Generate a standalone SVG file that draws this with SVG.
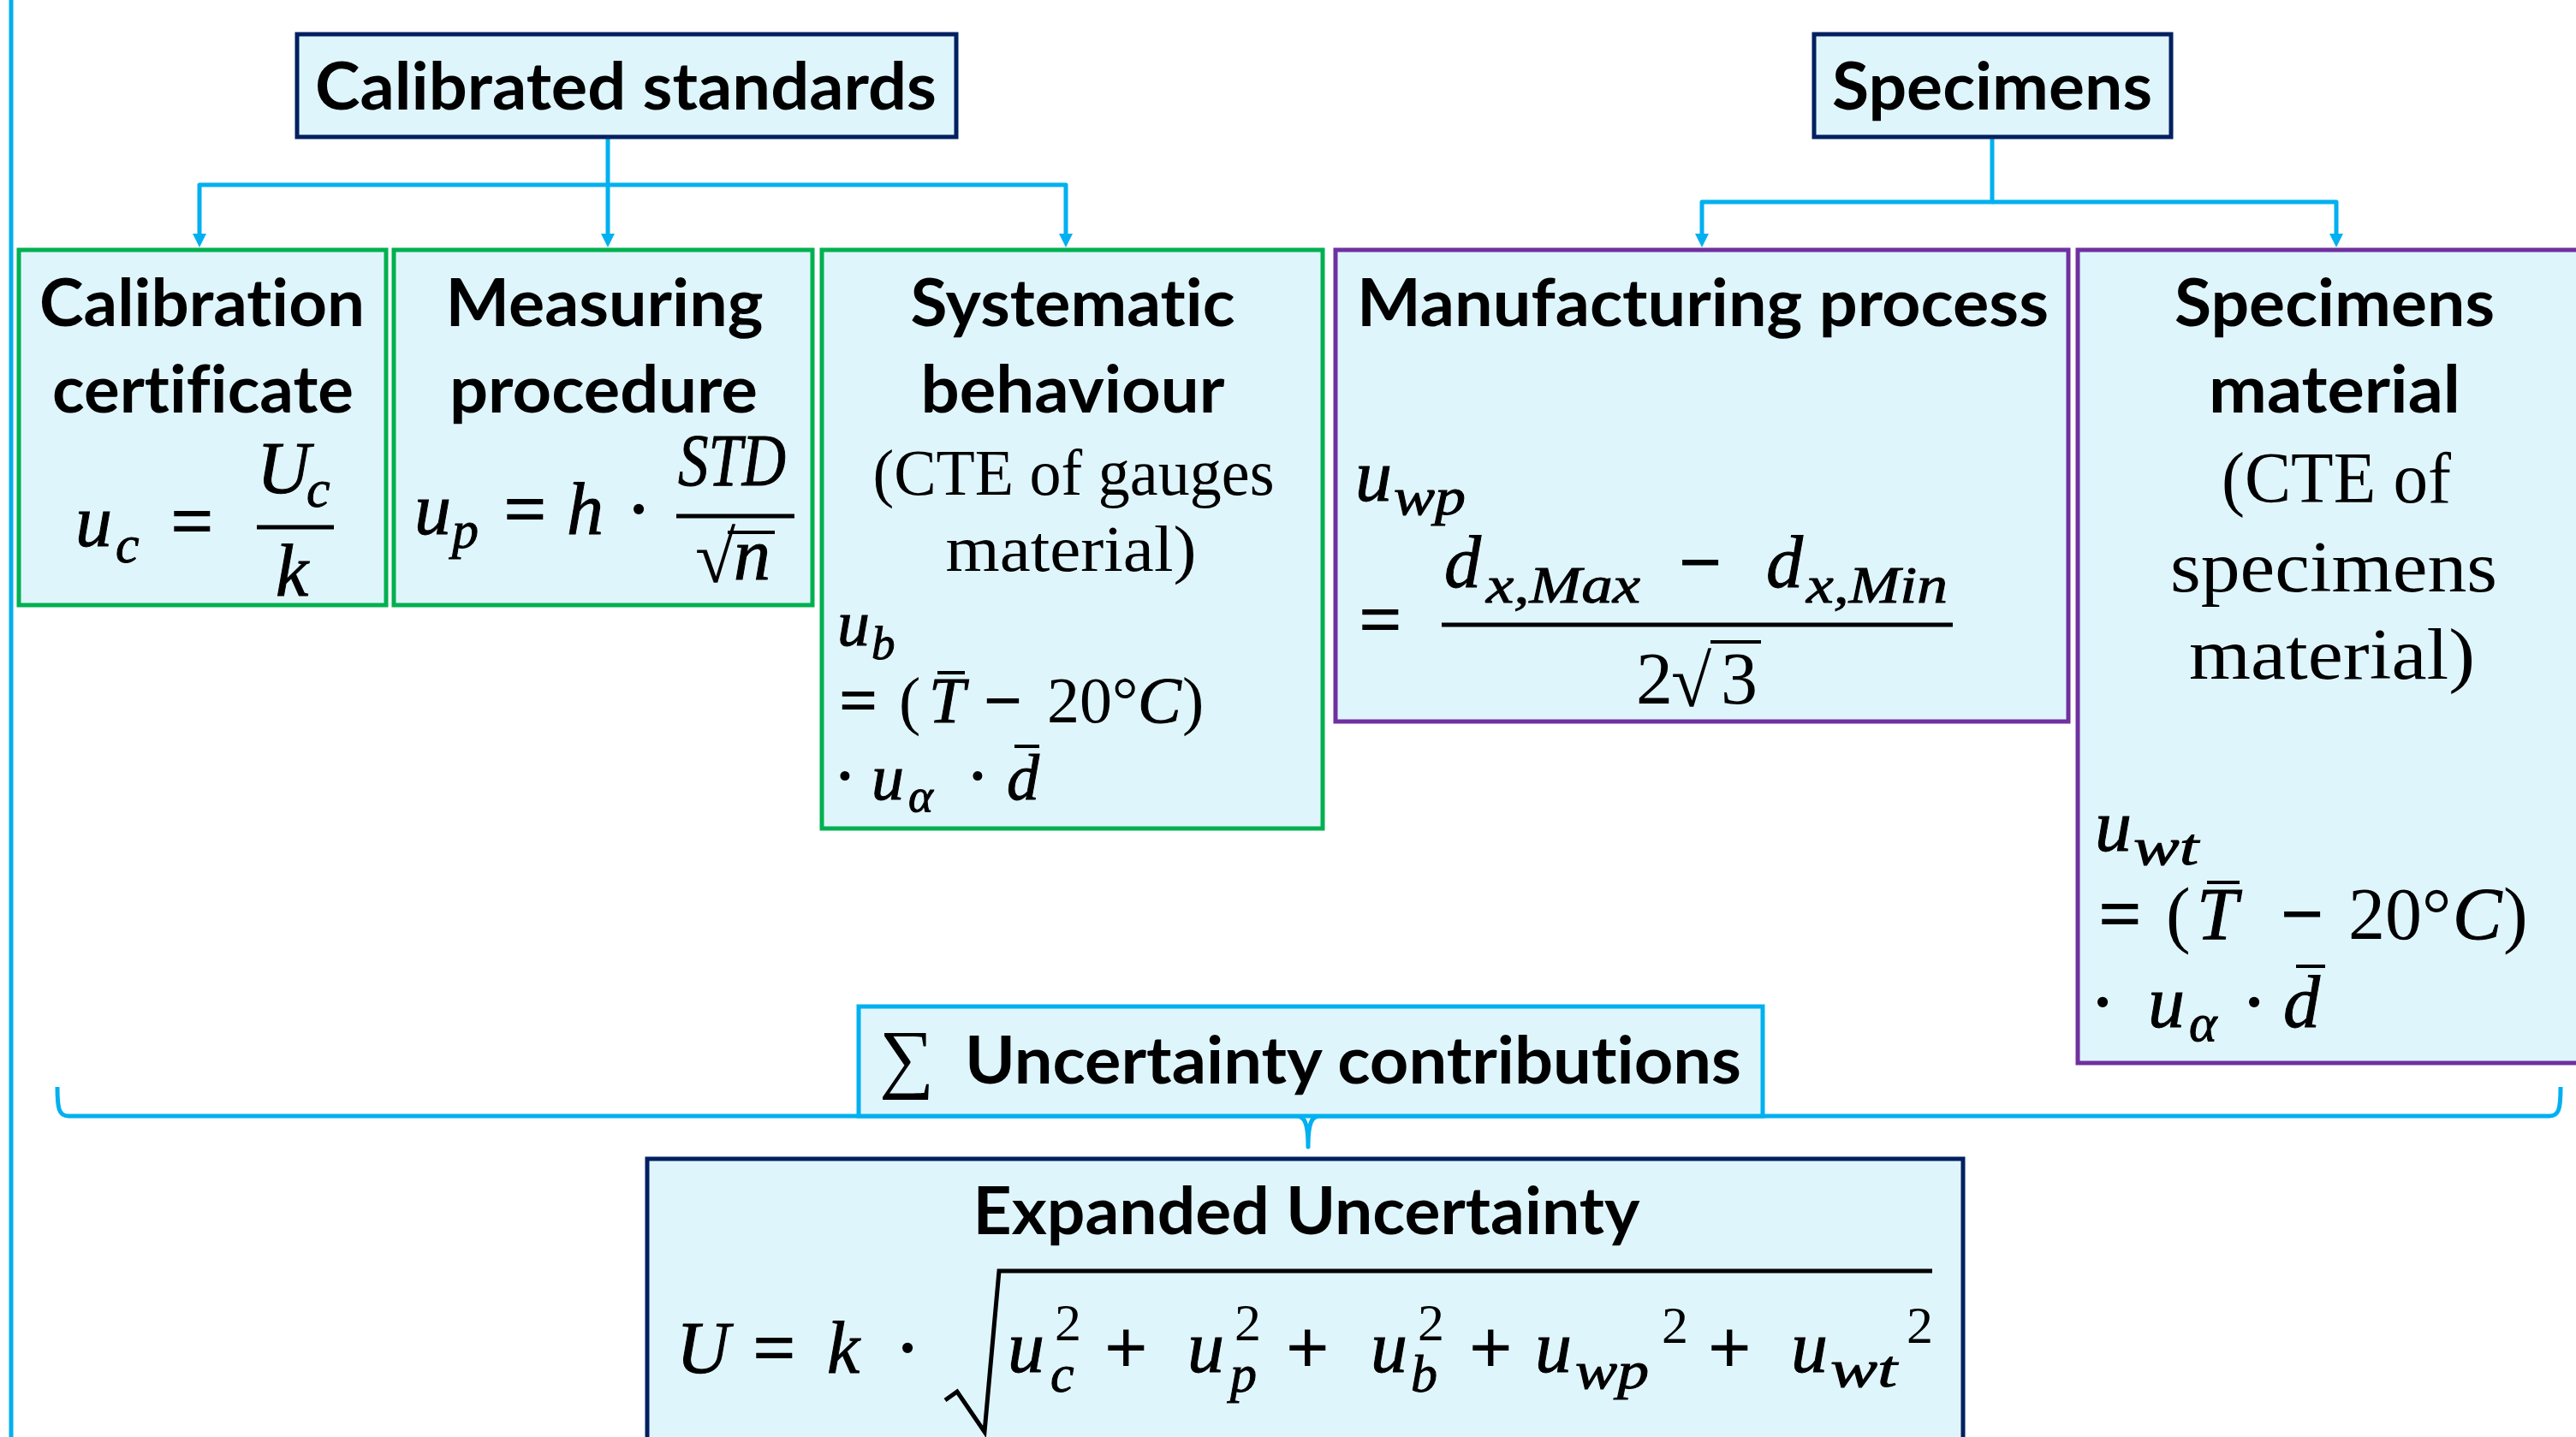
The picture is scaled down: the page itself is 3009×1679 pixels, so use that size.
<svg xmlns="http://www.w3.org/2000/svg" width="3009" height="1679" viewBox="0 0 3009 1679">
<defs>
<style>
.box{fill:#DFF5FC;stroke-width:5}
.navy{stroke:#002060}
.green{stroke:#00B050}
.purple{stroke:#7030A0}
.cyan{stroke:#00B0F0}
.lbl{font-family:Lato,'Liberation Sans',sans-serif;font-weight:bold;font-size:76px;fill:#000;font-variant-ligatures:none}
.c{text-anchor:middle}
.ser{font-family:'Liberation Serif',serif;fill:#000;font-variant-ligatures:none}
.mi{font-family:'Liberation Serif',serif;font-style:italic;fill:#000;stroke:#000;stroke-width:1}
.op{stroke:#000;stroke-width:2}
.m{font-size:86px}
.s{font-size:62px}
.m2{font-size:76px}
.s2{font-size:55px}
.conn{fill:none;stroke:#00B0F0;stroke-width:5;stroke-linejoin:round}
.bar{stroke:#000;stroke-width:5;fill:none}
.vb{stroke:#000;stroke-width:4}
</style>
<marker id="ah" markerUnits="userSpaceOnUse" markerWidth="16" markerHeight="16" refX="8" refY="8" orient="auto" viewBox="0 0 16 16"><path d="M0,0 L16,8 L0,16 z" fill="#00B0F0"/></marker>
</defs>
<rect width="3009" height="1679" fill="#FFFFFF"/>

<g id="connectors">
<line x1="13" y1="0" x2="13" y2="1679" stroke="#00B0F0" stroke-width="5"/>
<path class="conn" d="M710,161 V281" marker-end="url(#ah)"/>
<path class="conn" d="M710,216 H233 V281" marker-end="url(#ah)"/>
<path class="conn" d="M710,216 H1245 V281" marker-end="url(#ah)"/>
<path class="conn" d="M2327,161 V236 H1988 V281" marker-end="url(#ah)"/>
<path class="conn" d="M2327,236 H2729 V281" marker-end="url(#ah)"/>
<path class="conn" d="M67,1270 C67,1296 69,1304 80,1304 H1514 C1524,1304 1528,1312 1528,1340 C1528,1312 1532,1304 1542,1304 H2978 C2989,1304 2991,1296 2991,1270"/>
</g>

<g id="calibrated-standards">
<rect class="box navy" x="347" y="40" width="770" height="120"/>
<text class="lbl c" x="731" y="128" textLength="726" lengthAdjust="spacingAndGlyphs">Calibrated standards</text>
</g>

<g id="specimens">
<rect class="box navy" x="2119" y="40" width="417" height="120"/>
<text class="lbl c" x="2327" y="128" textLength="374" lengthAdjust="spacingAndGlyphs">Specimens</text>
</g>

<g id="calibration-certificate">
<rect class="box green" x="22" y="292" width="429" height="415"/>
<text class="lbl c" x="236" y="381" textLength="380" lengthAdjust="spacingAndGlyphs">Calibration</text>
<text class="lbl c" x="237" y="482" textLength="352" lengthAdjust="spacingAndGlyphs">certificate</text>
<text class="mi m" x="88" y="638">u</text>
<text class="mi s" x="135" y="657">c</text>
<text class="ser m op" x="200" y="638">=</text>
<line class="bar" x1="300" y1="616" x2="390" y2="616"/>
<text class="mi m" x="300" y="576">U</text>
<text class="mi s" x="358" y="592">c</text>
<text class="mi m" x="322" y="696">k</text>
</g>

<g id="measuring-procedure">
<rect class="box green" x="460" y="292" width="489" height="415"/>
<text class="lbl c" x="706" y="381" textLength="371" lengthAdjust="spacingAndGlyphs">Measuring</text>
<text class="lbl c" x="705" y="482" textLength="360" lengthAdjust="spacingAndGlyphs">procedure</text>
<text class="mi m" x="484" y="624">u</text>
<text class="mi s" x="528" y="640">p</text>
<text class="ser m op" x="589" y="624">=</text>
<text class="mi m" x="662" y="624">h</text>
<text class="ser m c op" x="746" y="624">·</text>
<line class="bar" x1="790" y1="603" x2="928" y2="603"/>
<text class="mi m" x="792" y="567" textLength="126" lengthAdjust="spacingAndGlyphs">STD</text>
<text class="ser m" x="812" y="680">√</text>
<line class="vb" x1="850" y1="622" x2="905" y2="622"/>
<text class="mi m" x="857" y="677">n</text>
</g>

<g id="systematic-behaviour">
<rect class="box green" x="960" y="292" width="585" height="676"/>
<text class="lbl c" x="1253" y="381" textLength="379" lengthAdjust="spacingAndGlyphs">Systematic</text>
<text class="lbl c" x="1253" y="482" textLength="355" lengthAdjust="spacingAndGlyphs">behaviour</text>
<text class="ser m2 c" x="1254" y="578" textLength="469" lengthAdjust="spacingAndGlyphs">(CTE of gauges</text>
<text class="ser m2 c" x="1251" y="667" textLength="293" lengthAdjust="spacingAndGlyphs">material)</text>
<text class="mi m2" x="978" y="754">u</text>
<text class="mi s2" x="1018" y="770">b</text>
<text class="ser m2 op" x="981" y="844">=</text>
<text class="ser m2" x="1050" y="844">(</text>
<text class="mi m2" x="1085" y="844">T</text>
<line class="vb" x1="1095" y1="786" x2="1127" y2="786"/>
<text class="ser m2 op" x="1150" y="844">−</text>
<text class="ser m2" x="1223" y="844">20°</text>
<text class="mi m2" x="1329" y="844">C</text>
<text class="ser m2" x="1381" y="844">)</text>
<text class="ser m2 c op" x="987" y="932">·</text>
<text class="mi m2" x="1018" y="934">u</text>
<text class="mi s2" x="1061" y="948">α</text>
<text class="ser m2 c op" x="1142" y="932">·</text>
<text class="mi m2" x="1176" y="934">d</text>
<line class="vb" x1="1185" y1="872" x2="1214" y2="872"/>
</g>

<g id="manufacturing-process">
<rect class="box purple" x="1560" y="292" width="856" height="551"/>
<text class="lbl c" x="1989" y="381" textLength="808" lengthAdjust="spacingAndGlyphs">Manufacturing process</text>
<text class="mi m" x="1583" y="585">u</text>
<text class="mi s" x="1628" y="601" textLength="84" lengthAdjust="spacingAndGlyphs">wp</text>
<text class="ser m op" x="1588" y="753">=</text>
<line class="bar" x1="1684" y1="730" x2="2281" y2="730"/>
<text class="mi m" x="1687" y="686">d</text>
<text class="mi s" x="1736" y="704" textLength="180" lengthAdjust="spacingAndGlyphs">x,Max</text>
<text class="ser m op" x="1962" y="686">−</text>
<text class="mi m" x="2063" y="686">d</text>
<text class="mi s" x="2110" y="704" textLength="165" lengthAdjust="spacingAndGlyphs">x,Min</text>
<text class="ser m" x="1911" y="822">2</text>
<text class="ser m" x="1952" y="825">√</text>
<line class="vb" x1="1998" y1="750" x2="2057" y2="750"/>
<text class="ser m" x="2010" y="822">3</text>
</g>

<g id="specimens-material">
<rect class="box purple" x="2427" y="292" width="620" height="950"/>
<text class="lbl c" x="2727" y="381" textLength="374" lengthAdjust="spacingAndGlyphs">Specimens</text>
<text class="lbl c" x="2727" y="482" textLength="294" lengthAdjust="spacingAndGlyphs">material</text>
<text class="ser c" font-size="84" x="2729" y="587" textLength="268" lengthAdjust="spacingAndGlyphs">(CTE of</text>
<text class="ser c" font-size="84" x="2726" y="691" textLength="382" lengthAdjust="spacingAndGlyphs">specimens</text>
<text class="ser c" font-size="84" x="2724" y="793" textLength="334" lengthAdjust="spacingAndGlyphs">material)</text>
<text class="mi m" x="2447" y="994">u</text>
<text class="mi s" x="2492" y="1010" textLength="76" lengthAdjust="spacingAndGlyphs">wt</text>
<text class="ser m op" x="2452" y="1097">=</text>
<text class="ser m" x="2530" y="1097">(</text>
<text class="mi m" x="2566" y="1097">T</text>
<line class="vb" x1="2578" y1="1031" x2="2616" y2="1031"/>
<text class="ser m op" x="2665" y="1097">−</text>
<text class="ser m" x="2743" y="1097">20°</text>
<text class="mi m" x="2865" y="1097">C</text>
<text class="ser m" x="2924" y="1097">)</text>
<text class="ser m c op" x="2456" y="1200">·</text>
<text class="mi m" x="2509" y="1200">u</text>
<text class="mi s" x="2557" y="1216">α</text>
<text class="ser m c op" x="2633" y="1200">·</text>
<text class="mi m" x="2667" y="1200">d</text>
<line class="vb" x1="2682" y1="1129" x2="2716" y2="1129"/>
</g>

<g id="uncertainty-contributions">
<rect class="box cyan" x="1003" y="1176" width="1056" height="128"/>
<text class="ser" font-size="90" x="1027" y="1266">∑</text>
<text class="lbl" x="1127" y="1266" textLength="907" lengthAdjust="spacingAndGlyphs">Uncertainty contributions</text>
</g>

<g id="expanded-uncertainty">
<rect class="box navy" x="756" y="1354" width="1537" height="400"/>
<text class="lbl c" x="1526" y="1442" textLength="779" lengthAdjust="spacingAndGlyphs">Expanded Uncertainty</text>
<text class="mi m" x="790" y="1604">U</text>
<text class="ser m op" x="880" y="1604">=</text>
<text class="mi m" x="966" y="1604">k</text>
<text class="ser m c op" x="1060" y="1604">·</text>
<path class="bar" d="M1104,1636 L1118,1626 L1150,1673 L1167,1485 H2257"/>
<text class="mi m" x="1177" y="1603">u</text>
<text class="ser s" x="1232" y="1566">2</text>
<text class="mi s" x="1227" y="1626">c</text>
<text class="ser m op" x="1291" y="1604">+</text>
<text class="mi m" x="1387" y="1603">u</text>
<text class="ser s" x="1442" y="1566">2</text>
<text class="mi s" x="1437" y="1626">p</text>
<text class="ser m op" x="1503" y="1604">+</text>
<text class="mi m" x="1601" y="1603">u</text>
<text class="ser s" x="1656" y="1566">2</text>
<text class="mi s" x="1648" y="1626">b</text>
<text class="ser m op" x="1717" y="1604">+</text>
<text class="mi m" x="1793" y="1603">u</text>
<text class="mi s" x="1840" y="1622" textLength="86" lengthAdjust="spacingAndGlyphs">wp</text>
<text class="ser s" x="1941" y="1569">2</text>
<text class="ser m op" x="1996" y="1604">+</text>
<text class="mi m" x="2092" y="1603">u</text>
<text class="mi s" x="2138" y="1620" textLength="78" lengthAdjust="spacingAndGlyphs">wt</text>
<text class="ser s" x="2227" y="1569">2</text>
</g>
</svg>
